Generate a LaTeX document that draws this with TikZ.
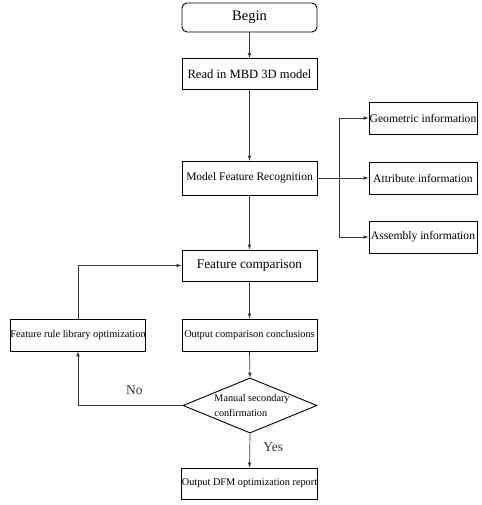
\documentclass[tikz,border=0pt]{standalone}
\usepackage{fontspec}
\setmainfont{Liberation Serif}
\usepackage{tikz}
\usetikzlibrary{calc}
\usetikzlibrary{arrows}
\usetikzlibrary{shapes.geometric}
\usepackage{color}
\definecolor{lineg}{RGB}{55, 55, 55}

\begin{document}
\begin{tikzpicture}[x=1pt, y=-1pt,
        box/.style={draw=black, line width=0.9pt, minimum width=135pt, minimum height=31pt, inner sep=0pt},
        infobox/.style={box, minimum width=108pt, minimum height=32pt, font=\fontsize{11.6}{13}\selectfont},
        flow/.style={->, >=latex, color=lineg, line width=0.7pt},
        lbl/.style={font=\fontsize{13.5}{15}\selectfont}]
            \useasboundingbox (0,0) rectangle (481,505);
            % main column
            \node[box, rounded corners=5pt, minimum height=29pt, font=\fontsize{14.5}{16}\selectfont] (begin) at (249.5, 17.5) {Begin};
            \node[box, font=\fontsize{12.6}{14}\selectfont]                   (read)  at (249.5, 74.0)  {Read in MBD 3D model};
            \node[box, minimum height=34pt, font=\fontsize{11.5}{13}\selectfont] (recog) at (249.5, 178.0) {Model Feature Recognition};
            \node[box, font=\fontsize{13.3}{15}\selectfont]                   (comp)  at (249.5, 265.5) {Feature comparison};
            \node[box, minimum height=32pt, font=\fontsize{10.3}{12}\selectfont] (concl) at (249.5, 335.0) {Output comparison conclusions};
            \node[draw=black, line width=0.9pt, shape=diamond, aspect=2.4, inner sep=0pt,
                  minimum width=134pt, minimum height=55pt, align=left,
                  font=\fontsize{10.2}{15}\selectfont]                        (check) at (250.0, 405.5) {\hspace*{4pt}Manual secondary\\\hspace*{4pt}confirmation};
            \node[box, font=\fontsize{10.3}{12}\selectfont]                   (report) at (249.5, 483.5) {Output DFM optimization report};
            % side boxes
            \node[box, minimum width=134pt, minimum height=32pt, font=\fontsize{10.4}{12}\selectfont] (rules) at (78.0, 335.0) {Feature rule library optimization};
            \node[infobox] (geom) at (423.0, 118.0) {Geometric information};
            \node[infobox] (attr) at (423.0, 178.0) {Attribute information};
            \node[infobox] (asm)  at (423.0, 237.0) {Assembly information};
            % connectors
            \draw[flow] (begin.south) -- (read.north);
            \draw[flow] (read.south)  -- (recog.north);
            \draw[flow] (recog.east)  -- (attr.west);
            \draw[flow] (recog.east)  -- ++(22,0) |- (geom.west);
            \draw[flow] (recog.east)  -- ++(22,0) |- (asm.west);
            \draw[flow] (recog.south) -- (comp.north);
            \draw[flow] (comp.south)  -- (concl.north);
            \draw[flow] (concl.south) -- (check.north);
            \draw[flow] (check.south) -- (report.north) node[lbl, pos=0.4, right=10pt] {Yes};
            \draw[flow] (check.west)  -| (rules.south) node[lbl, pos=0.23, above=7pt] {No};
            \draw[flow] (rules.north) |- (comp.west);
        \end{tikzpicture}
\end{document}
